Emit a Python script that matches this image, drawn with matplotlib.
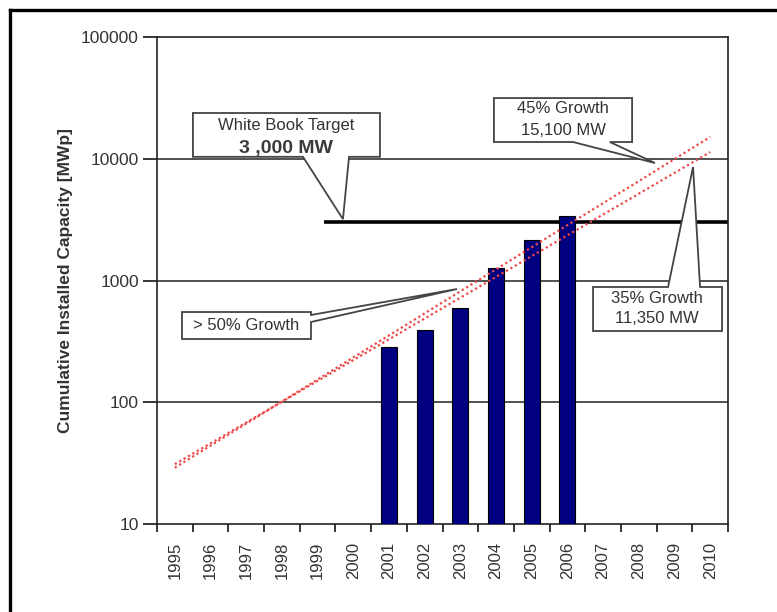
import numpy as np
import matplotlib.pyplot as plt
from matplotlib.patches import Polygon
from matplotlib.lines import Line2D

plt.rcParams['font.family'] = ['Liberation Sans', 'DejaVu Sans']

# data
years = ['1995', '1996', '1997', '1998', '1999', '2000', '2001', '2002',
         '2003', '2004', '2005', '2006', '2007', '2008', '2009', '2010']
bar_years = ['2001', '2002', '2003', '2004', '2005', '2006']
capacity = [285, 390, 590, 1260, 2150, 3400]

target_value = 3000
target_start = 4.18  # category position where the target line begins

trend_years = ['1995', '2010']
trend_45 = [29, 15100]
trend_35 = [31, 11350]

fig = plt.figure(figsize=(7.77, 6.12), dpi=100)
ax = fig.add_axes([0.202, 0.1438, 0.735, 0.7957])

xpos = {y: i for i, y in enumerate(years)}

ax.set_yscale('log')
ax.set_ylim(10, 100000)
ax.set_xlim(-0.5, len(years) - 0.5)

# horizontal grid at the decades
for v in [100, 1000, 10000]:
    ax.axhline(v, color='#222222', lw=1.1, zorder=1)

# white book target line
ax.plot([target_start, len(years) - 0.5], [target_value, target_value],
        color='black', lw=2.6, zorder=2, solid_capstyle='butt')

ax.bar([xpos[y] for y in bar_years], capacity, width=0.45,
       color='#000080', edgecolor='black', lw=0.8, zorder=3)

red = '#f04848'
ax.plot([xpos[y] for y in trend_years], trend_45, color=red, lw=1.6,
        ls=(0, (1, 1.3)), zorder=6)
ax.plot([xpos[y] for y in trend_years], trend_35, color=red, lw=1.6,
        ls=(0, (1, 1.3)), zorder=6)

# ticks
ax.set_xticks(np.arange(-0.5, len(years), 1.0))
ax.set_xticklabels([])
ax.set_xticks(np.arange(len(years)), minor=True)
ax.set_xticklabels(years, minor=True, rotation=90, fontsize=12, color='#333333')
ax.tick_params(axis='x', which='major', length=6, width=1.1, direction='out')
ax.tick_params(axis='x', which='minor', length=0, pad=13)
ax.set_yticks([10, 100, 1000, 10000, 100000])
ax.set_yticklabels(['10', '100', '1000', '10000', '100000'], fontsize=12.5, color='#333333')
ax.yaxis.set_minor_locator(plt.NullLocator())
ax.tick_params(axis='y', length=10, width=1.1, direction='out', pad=3)

for s in ax.spines.values():
    s.set_linewidth(1.2)
    s.set_color('#222222')

ax.set_ylabel('Cumulative Installed Capacity [MWp]', fontsize=12.5,
              fontweight='bold', color='#333333', labelpad=6)


# callout boxes (axes fractions)
def callout(pts, zorder=5):
    ax.add_patch(Polygon(pts, closed=True, transform=ax.transAxes, facecolor='white',
                         edgecolor='#444444', lw=1.3, zorder=zorder, clip_on=False))


# White Book Target: wedge from the bottom edge
x0, x1, y0, y1 = 0.063, 0.3905, 0.754, 0.844
callout([(x0, y0), (0.2557, y0), (0.3257, 0.626), (0.3363, y0), (x1, y0), (x1, y1), (x0, y1)])
ax.text(0.226, 0.819, 'White Book Target', transform=ax.transAxes, ha='center',
        va='center', fontsize=12, color='#333333', zorder=7)
ax.text(0.226, 0.772, '3 ,000 MW', transform=ax.transAxes, ha='center',
        va='center', fontsize=14, fontweight='bold', color='#3a3a3a', zorder=7)

# 45% growth: wedge from the bottom edge
x0, x1, y0, y1 = 0.590, 0.832, 0.7844, 0.8747
callout([(x0, y0), (0.7285, y0), (0.8720, 0.7413), (0.793, y0), (x1, y0), (x1, y1), (x0, y1)])
ax.text(0.711, 0.854, '45% Growth', transform=ax.transAxes, ha='center',
        va='center', fontsize=12, color='#333333', zorder=7)
ax.text(0.711, 0.809, '15,100 MW', transform=ax.transAxes, ha='center',
        va='center', fontsize=12, color='#333333', zorder=7)

# 35% growth: wedge from the top edge
x0, x1, y0, y1 = 0.7636, 0.9895, 0.3963, 0.4867
callout([(x0, y1), (0.895, y1), (0.9387, 0.7331), (0.951, y1), (x1, y1), (x1, y0), (x0, y0)])
ax.text(0.8757, 0.464, '35% Growth', transform=ax.transAxes, ha='center',
        va='center', fontsize=12, color='#333333', zorder=7)
ax.text(0.8757, 0.423, '11,350 MW', transform=ax.transAxes, ha='center',
        va='center', fontsize=12, color='#333333', zorder=7)

# > 50% growth: wedge from the right edge
x0, x1, y0, y1 = 0.0438, 0.2697, 0.3799, 0.4353
callout([(x1, y1), (x1, 0.4292), (0.5254, 0.4825), (x1, 0.4148), (x1, y0), (x0, y0), (x0, y1)])
ax.text(0.156, 0.4076, '> 50% Growth', transform=ax.transAxes, ha='center',
        va='center', fontsize=12, color='#333333', zorder=7)

# outer frame (top and left only)
fig.add_artist(Line2D([10 / 777, 1], [1 - 10 / 612, 1 - 10 / 612], color='black', lw=2.4))
fig.add_artist(Line2D([10 / 777, 10 / 777], [0, 1 - 10 / 612], color='black', lw=2.4))

fig.savefig('out.png', dpi=100, facecolor='white')
